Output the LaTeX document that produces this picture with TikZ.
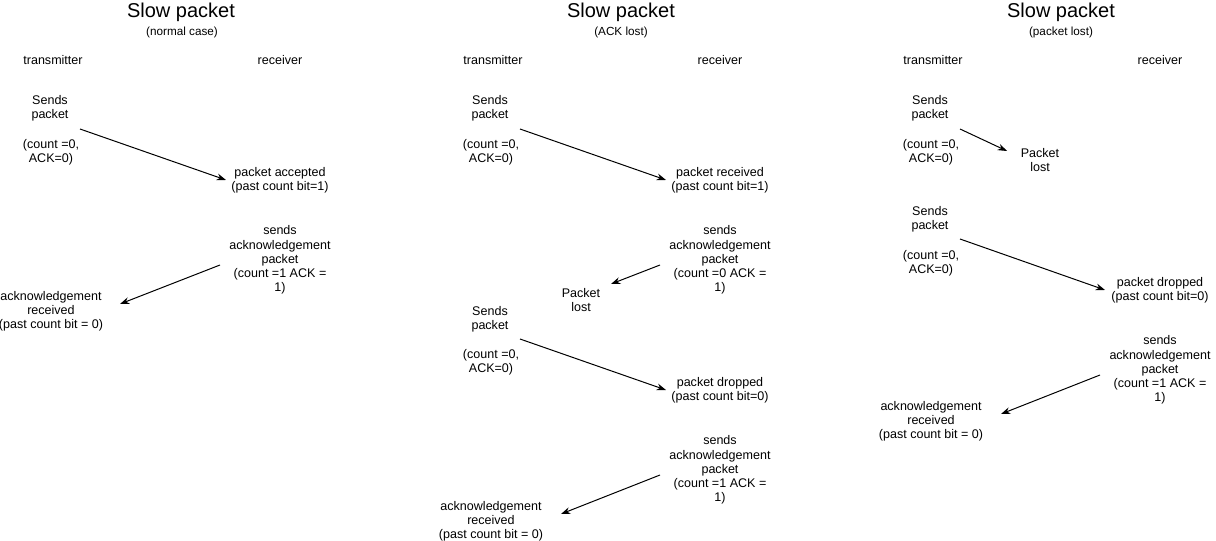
\documentclass[tikz,border=0pt]{standalone}
\usepackage{fontspec}
\setmainfont{Liberation Sans}
\usetikzlibrary{arrows.meta}
\begin{document}
\begin{tikzpicture}[x=0.75pt,y=-0.75pt,
  txt/.style={align=center,inner sep=0pt,font=\fontsize{9.4}{10.6}\selectfont},
  ttl/.style={inner sep=0pt,font=\fontsize{15}{18}\selectfont},
  sub/.style={inner sep=0pt,font=\fontsize{8.8}{10}\selectfont},
  msg/.style={-{Stealth[length=7pt,width=5pt]},line width=0.75pt}]
\useasboundingbox (0,0) rectangle (1216,541);

% ---------- Panel 1 ----------
\node[ttl] (t1) at (181,12) {Slow packet};
\node[sub] (s1) at (182,32) {(normal case)};
\node[txt] (tx1) at (53,60) {transmitter};
\node[txt] (rx1) at (280,60) {receiver};
\node[txt] (sp1) at (50,108) {Sends\\packet};
\node[txt] (c1) at (51,152) {(count =0,\\ACK=0)};
\node[txt] (acc1) at (280,180) {packet accepted\\(past count bit=1)};
\node[txt] (ack1) at (280,260) {sends\\acknowledgement\\packet\\(count =1 ACK =\\1)};
\node[txt] (rcv1) at (51,311) {acknowledgement\\received\\(past count bit = 0)};
\coordinate (a1s) at (80,129);  \coordinate (a1e) at (226,180);
\coordinate (a2s) at (220,265); \coordinate (a2e) at (120,304);
\draw[msg] (a1s) -- (a1e);
\draw[msg] (a2s) -- (a2e);

% ---------- Panel 2 ----------
\node[ttl] (t2) at (621,12) {Slow packet};
\node[sub] (s2) at (621,32) {(ACK lost)};
\node[txt] (tx2) at (493,60) {transmitter};
\node[txt] (rx2) at (720,60) {receiver};
\node[txt] (sp2) at (490,108) {Sends\\packet};
\node[txt] (c2) at (491,152) {(count =0,\\ACK=0)};
\node[txt] (acc2) at (720,180) {packet received\\(past count bit=1)};
\node[txt] (ack2) at (720,260) {sends\\acknowledgement\\packet\\(count =0 ACK =\\1)};
\node[txt] (lost2) at (581,300) {Packet\\lost};
\node[txt] (sp2b) at (490,319) {Sends\\packet};
\node[txt] (c2b) at (491,362) {(count =0,\\ACK=0)};
\node[txt] (drop2) at (720,390) {packet dropped\\(past count bit=0)};
\node[txt] (ack2b) at (720,470) {sends\\acknowledgement\\packet\\(count =1 ACK =\\1)};
\node[txt] (rcv2) at (491,521) {acknowledgement\\received\\(past count bit = 0)};
\coordinate (b1s) at (520,129); \coordinate (b1e) at (666,180);
\coordinate (b2s) at (660,265); \coordinate (b2e) at (611,284);
\coordinate (b3s) at (520,339); \coordinate (b3e) at (666,390);
\coordinate (b4s) at (660,475); \coordinate (b4e) at (561,514);
\draw[msg] (b1s) -- (b1e);
\draw[msg] (b2s) -- (b2e);
\draw[msg] (b3s) -- (b3e);
\draw[msg] (b4s) -- (b4e);

% ---------- Panel 3 ----------
\node[ttl] (t3) at (1061,12) {Slow packet};
\node[sub] (s3) at (1061,32) {(packet lost)};
\node[txt] (tx3) at (933,60) {transmitter};
\node[txt] (rx3) at (1160,60) {receiver};
\node[txt] (sp3) at (930,108) {Sends\\packet};
\node[txt] (c3) at (931,152) {(count =0,\\ACK=0)};
\node[txt] (lost3) at (1040,160) {Packet\\lost};
\node[txt] (sp3b) at (930,219) {Sends\\packet};
\node[txt] (c3b) at (931,263) {(count =0,\\ACK=0)};
\node[txt] (drop3) at (1160,290) {packet dropped\\(past count bit=0)};
\node[txt] (ack3) at (1160,370) {sends\\acknowledgement\\packet\\(count =1 ACK =\\1)};
\node[txt] (rcv3) at (931,421) {acknowledgement\\received\\(past count bit = 0)};
\coordinate (c1s) at (960,129);  \coordinate (c1e) at (1007,151);
\coordinate (c2s) at (960,239);  \coordinate (c2e) at (1105,290);
\coordinate (c3s) at (1100,375); \coordinate (c3e) at (1001,414);
\draw[msg] (c1s) -- (c1e);
\draw[msg] (c2s) -- (c2e);
\draw[msg] (c3s) -- (c3e);
\end{tikzpicture}
\end{document}
